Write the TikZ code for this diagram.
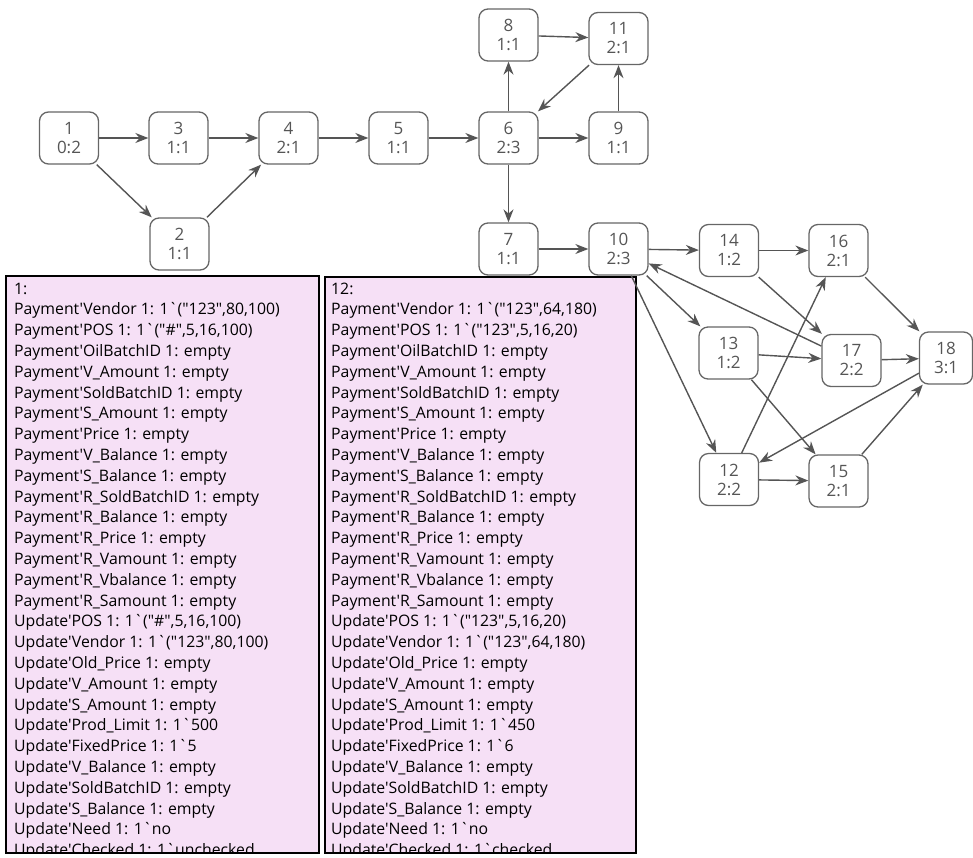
\documentclass[tikz,border=0pt]{standalone}
\usepackage{fontspec}
\setmainfont{Open Sans}[Ligatures=TeXOff]
\newfontfamily\boxfont{Open Sans}[Ligatures=TeXOff]
\usetikzlibrary{arrows.meta}
\definecolor{edgegray}{HTML}{555555}
\definecolor{nodegray}{HTML}{666666}
\definecolor{boxpink}{RGB}{246,224,246}
\begin{document}
\begin{tikzpicture}[x=1pt,y=-1pt,
  st/.style={draw=nodegray, line width=1.3pt, rounded corners=9pt, minimum width=59pt, minimum height=52pt, align=center, font=\fontsize{17}{19}\selectfont, text=edgegray, inner sep=0pt},
  ar/.style={draw=edgegray, line width=1.4pt, -{Stealth[length=13pt,width=10pt]}},
  panel/.style={draw=black, line width=1.8pt, fill=boxpink},
  listtxt/.style={anchor=base west, align=left, inner sep=0pt, font=\boxfont\fontsize{15.8}{20.8}\selectfont}
]
\useasboundingbox (0,0) rectangle (973,857);
% panels
\draw[panel] (6,276) rectangle (319,853);
\draw[panel] (325,277) rectangle (636,853);
\begin{scope}
\clip (6,276) rectangle (319,852);
\node[listtxt] (list1) at (14,855.6) {1:\\
Payment'Vendor 1: 1`("123",80,100)\\
Payment'POS 1: 1`("\#",5,16,100)\\
Payment'OilBatchID 1: empty\\
Payment'V\_Amount 1: empty\\
Payment'SoldBatchID 1: empty\\
Payment'S\_Amount 1: empty\\
Payment'Price 1: empty\\
Payment'V\_Balance 1: empty\\
Payment'S\_Balance 1: empty\\
Payment'R\_SoldBatchID 1: empty\\
Payment'R\_Balance 1: empty\\
Payment'R\_Price 1: empty\\
Payment'R\_Vamount 1: empty\\
Payment'R\_Vbalance 1: empty\\
Payment'R\_Samount 1: empty\\
Update'POS 1: 1`("\#",5,16,100)\\
Update'Vendor 1: 1`("123",80,100)\\
Update'Old\_Price 1: empty\\
Update'V\_Amount 1: empty\\
Update'S\_Amount 1: empty\\
Update'Prod\_Limit 1: 1`500\\
Update'FixedPrice 1: 1`5\\
Update'V\_Balance 1: empty\\
Update'SoldBatchID 1: empty\\
Update'S\_Balance 1: empty\\
Update'Need 1: 1`no\\
Update'Checked 1: 1`unchecked};
\end{scope}
\begin{scope}
\clip (325,277) rectangle (636,852);
\node[listtxt] (list2) at (331,855.6) {12:\\
Payment'Vendor 1: 1`("123",64,180)\\
Payment'POS 1: 1`("123",5,16,20)\\
Payment'OilBatchID 1: empty\\
Payment'V\_Amount 1: empty\\
Payment'SoldBatchID 1: empty\\
Payment'S\_Amount 1: empty\\
Payment'Price 1: empty\\
Payment'V\_Balance 1: empty\\
Payment'S\_Balance 1: empty\\
Payment'R\_SoldBatchID 1: empty\\
Payment'R\_Balance 1: empty\\
Payment'R\_Price 1: empty\\
Payment'R\_Vamount 1: empty\\
Payment'R\_Vbalance 1: empty\\
Payment'R\_Samount 1: empty\\
Update'POS 1: 1`("123",5,16,20)\\
Update'Vendor 1: 1`("123",64,180)\\
Update'Old\_Price 1: empty\\
Update'V\_Amount 1: empty\\
Update'S\_Amount 1: empty\\
Update'Prod\_Limit 1: 1`450\\
Update'FixedPrice 1: 1`6\\
Update'V\_Balance 1: empty\\
Update'SoldBatchID 1: empty\\
Update'S\_Balance 1: empty\\
Update'Need 1: 1`no\\
Update'Checked 1: 1`checked};
\end{scope}
% state nodes
\node[st] (n1) at (69,138) {1\\0:2};
\node[st] (n3) at (178.5,138) {3\\1:1};
\node[st] (n4) at (288.5,138) {4\\2:1};
\node[st] (n5) at (398.5,138) {5\\1:1};
\node[st] (n2) at (179.5,244) {2\\1:1};
\node[st] (n6) at (508.5,138) {6\\2:3};
\node[st] (n8) at (508.5,35) {8\\1:1};
\node[st] (n11) at (618.5,38.5) {11\\2:1};
\node[st] (n9) at (618.5,138) {9\\1:1};
\node[st] (n7) at (508.5,249) {7\\1:1};
\node[st] (n10) at (618.5,249) {10\\2:3};
\node[st] (n14) at (729,250.5) {14\\1:2};
\node[st] (n16) at (838.5,250.5) {16\\2:1};
\node[st] (n13) at (728.5,353) {13\\1:2};
\node[st] (n17) at (851.5,360.5) {17\\2:2};
\node[st,minimum width=53pt] (n18) at (946,358) {18\\3:1};
\node[st] (n12) at (729,479.5) {12\\2:2};
\node[st] (n15) at (838.5,481) {15\\2:1};
% edges
\draw[ar] (n1) -- (n3);
\draw[ar] (n1) -- (n2);
\draw[ar] (n3) -- (n4);
\draw[ar] (n2) -- (n4);
\draw[ar] (n4) -- (n5);
\draw[ar] (n5) -- (n6);
\draw[ar] (n6) -- (n8);
\draw[ar] (n6) -- (n9);
\draw[ar] (n6) -- (n7);
\draw[ar] (n8) -- (n11);
\draw[ar] (n9) -- (n11);
\draw[ar] (n11) -- (n6);
\draw[ar] (n7) -- (n10);
\draw[ar] (n10) -- (n14);
\draw[ar] (n10) -- (n13);
\draw[ar] (n10) -- (n12);
\draw[ar] (n17) -- (n10);
\draw[ar] (n14) -- (n16);
\draw[ar] (n14) -- (n17);
\draw[ar] (n13) -- (n17);
\draw[ar] (n13) -- (n15);
\draw[ar] (n12) -- (n16);
\draw[ar] (n12) -- (n15);
\draw[ar] (n16) -- (n18);
\draw[ar] (n17) -- (n18);
\draw[ar] (n15) -- (n18);
\draw[ar] (n18) -- (n12);
\end{tikzpicture}
\end{document}
